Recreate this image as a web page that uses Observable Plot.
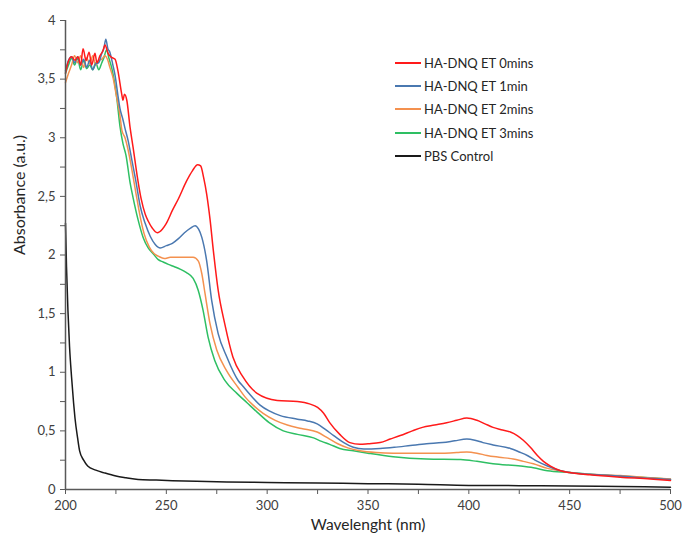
<!DOCTYPE html>
<html><head><meta charset="utf-8">
<script src="https://cdn.jsdelivr.net/npm/d3@7"></script>
<script src="https://cdn.jsdelivr.net/npm/@observablehq/plot@0.6"></script>
<style>
body{margin:0;background:#fff;font-family:Lato,"Open Sans",sans-serif;}
#wrap{position:relative;width:682px;height:542px;}
#legend{position:absolute;left:395px;top:51px;font-size:13px;color:#262626;}
.item{display:flex;align-items:center;height:23.4px;white-space:nowrap;}
.sw{width:26px;height:0;border-top:2px solid;margin-right:3px;}
</style></head><body><div id="wrap"><div id="legend"></div></div>
<script>
const seriesNames = ["HA-DNQ ET 0mins","HA-DNQ ET 1min","HA-DNQ ET 2mins","HA-DNQ ET 3mins","PBS Control"];
const seriesColors = ["#ff1a1a","#4a78b0","#f4914f","#2ebf63","#1a1a1a"];

const et0 = [[200,3.55],[201.4,3.65],[203.1,3.69],[204.7,3.66],[206.2,3.69],[207.5,3.62],[208.7,3.76],[210.2,3.66],[211.7,3.73],[213,3.62],[214.6,3.72],[215.6,3.64],[217.1,3.70],[218.5,3.74],[219.6,3.79],[221.1,3.72],[222.5,3.69],[224.6,3.67],[226,3.57],[227.9,3.37],[228.5,3.32],[229.2,3.37],[230.4,3.32],[232,3.09],[233.5,2.92],[235.5,2.68],[237.5,2.48],[239.5,2.35],[241,2.29],[243,2.23],[245.5,2.19],[248,2.22],[250,2.27],[253,2.38],[256,2.48],[260,2.63],[263,2.72],[265.5,2.77],[267,2.76],[268.5,2.66],[270,2.52],[271.7,2.30],[273.3,2.04],[275.7,1.70],[279,1.41],[283,1.13],[288,0.96],[295,0.82],[305,0.76],[315,0.75],[321,0.73],[325,0.70],[328,0.65],[331,0.57],[336,0.47],[341,0.40],[346,0.385],[350,0.39],[356,0.40],[361,0.43],[366,0.46],[372,0.50],[377,0.53],[383,0.55],[389,0.57],[394,0.59],[399,0.61],[404,0.59],[408,0.56],[412,0.53],[416,0.51],[420.6,0.49],[424,0.46],[427,0.42],[430.5,0.36],[434,0.29],[437,0.24],[440.5,0.20],[445.5,0.16],[450,0.145],[460,0.125],[475,0.105],[490,0.09],[500,0.077]];

const et1 = [[200,3.57],[201.5,3.66],[203,3.69],[204.5,3.64],[206,3.69],[207.5,3.62],[209,3.67],[210.5,3.60],[212,3.66],[213.5,3.58],[215,3.63],[216.5,3.64],[218,3.72],[219,3.76],[220,3.84],[221,3.76],[222,3.73],[223.5,3.62],[224.6,3.53],[226,3.36],[227,3.25],[228.4,3.16],[229.5,3.08],[231,2.98],[233,2.80],[235,2.62],[237,2.42],[239.5,2.27],[242,2.16],[244.5,2.09],[247,2.06],[250,2.08],[253,2.10],[256,2.14],[259,2.19],[262,2.23],[264.3,2.25],[266,2.22],[267.6,2.15],[270,1.95],[272.5,1.61],[275.7,1.33],[280,1.13],[285.6,0.93],[288,0.88],[293,0.78],[296.5,0.72],[301,0.67],[306.5,0.63],[315,0.60],[320,0.585],[324.8,0.56],[329,0.51],[333,0.46],[338,0.40],[342.7,0.36],[348,0.345],[356,0.35],[363,0.36],[371,0.375],[379,0.39],[387,0.40],[393,0.415],[399,0.43],[403,0.42],[407,0.40],[412,0.38],[420.6,0.35],[425,0.32],[429,0.29],[434,0.24],[439,0.20],[445.5,0.16],[450,0.145],[460,0.13],[475,0.115],[490,0.095],[500,0.085]];

const et2 = [[200,3.47],[201.5,3.55],[203,3.62],[204.5,3.70],[206,3.64],[207.5,3.70],[209,3.60],[210.5,3.68],[212,3.63],[213.5,3.70],[215,3.62],[216.5,3.66],[218,3.67],[219.5,3.70],[221,3.66],[222,3.60],[223.6,3.51],[225,3.38],[227,3.19],[228,3.06],[229.5,3.00],[231,2.90],[233,2.72],[235,2.52],[237,2.33],[239,2.18],[241.5,2.07],[244,2.01],[246,1.99],[249,1.97],[252,1.98],[256.8,1.98],[260,1.98],[263.3,1.98],[265.8,1.95],[267.6,1.84],[269.2,1.67],[271.7,1.41],[275,1.19],[280,1.01],[285.6,0.87],[289,0.79],[293,0.72],[298,0.65],[304,0.59],[310,0.55],[317,0.52],[324.8,0.49],[330,0.44],[335,0.39],[340,0.355],[346,0.33],[354,0.315],[362.5,0.31],[375,0.31],[387,0.31],[394,0.315],[399,0.32],[404,0.31],[409,0.29],[415,0.275],[422,0.26],[427,0.24],[432,0.22],[439,0.18],[445.5,0.16],[450,0.145],[460,0.13],[475,0.12],[490,0.10],[500,0.09]];

const et3 = [[200,3.55],[201.5,3.62],[203,3.68],[204.5,3.62],[206,3.68],[207.5,3.58],[209,3.66],[210.5,3.59],[212,3.62],[213.5,3.58],[215,3.64],[216.5,3.58],[218,3.64],[219,3.68],[220.4,3.75],[221.5,3.68],[223,3.59],[225.5,3.33],[227,3.10],[228.5,2.95],[230,2.85],[232,2.62],[233.5,2.49],[236,2.30],[238.5,2.15],[241,2.06],[243.5,2.01],[246,1.96],[248.4,1.94],[251,1.92],[254,1.90],[256.8,1.88],[260,1.85],[263.3,1.80],[265.8,1.70],[268.2,1.53],[270.7,1.30],[274,1.10],[279,0.93],[285,0.82],[290,0.74],[295,0.66],[301,0.57],[308,0.50],[315,0.47],[323,0.44],[327,0.41],[331,0.385],[336,0.35],[342.7,0.33],[350,0.31],[362.5,0.28],[379,0.26],[396,0.255],[404,0.24],[412,0.22],[425.6,0.20],[432,0.185],[439,0.16],[450,0.145],[460,0.13],[475,0.115],[490,0.10],[500,0.088]];

const pbs = [[200,2.27],[200.5,1.9],[201.2,1.53],[202,1.22],[203,0.96],[204,0.74],[204.7,0.61],[206,0.44],[207,0.33],[209,0.25],[211,0.20],[215,0.165],[219.6,0.14],[225,0.115],[230,0.10],[236,0.085],[245,0.08],[253,0.075],[265,0.07],[280,0.065],[300,0.06],[325,0.055],[350,0.05],[375,0.045],[400,0.035],[425,0.033],[450,0.03],[475,0.025],[500,0.02]];

const yTicks = d3.range(0, 4.001, 0.25);
const xTicks = d3.range(200, 501, 25);

const allSeries = [et0, et1, et2, et3, pbs];
const drawOrder = [4, 3, 2, 1, 0];

const chart = Plot.plot({
  width: 682, height: 542,
  marginLeft: 65, marginRight: 12, marginTop: 20, marginBottom: 53,
  style: {fontFamily: "Lato, 'Open Sans', sans-serif", fontSize: "13px", color: "#404040", background: "white"},
  x: {domain: [200, 500]},
  y: {domain: [0, 4]},
  marks: [
    Plot.axisY({ticks: yTicks, tickSize: 5, tickPadding: 5, stroke: "#595959",
      tickFormat: d => Math.abs(d * 2 - Math.round(d * 2)) < 1e-9 ? String(d).replace(".", ",") : "", label: null}),
    Plot.axisX({ticks: xTicks, tickSize: 5, tickPadding: 6, stroke: "#595959",
      tickFormat: d => d % 50 === 0 ? String(d) : "", label: null}),
    ...drawOrder.map(i => Plot.line(allSeries[i], {x: d => d[0], y: d => d[1], stroke: seriesColors[i], strokeWidth: 1.5, curve: "monotone-x"})),
    Plot.ruleX([200], {stroke: "#595959", strokeWidth: 1.5}),
    Plot.ruleY([0], {stroke: "#595959", strokeWidth: 1.5}),
    Plot.text(["Absorbance (a.u.)"], {frameAnchor: "left", dx: -46, rotate: -90, fontSize: 16, fill: "#262626"}),
    Plot.text(["Wavelenght (nm)"], {frameAnchor: "bottom", dy: 40, fontSize: 15.5, fill: "#262626"})
  ]
});
const wrap = document.getElementById("wrap");
wrap.insertBefore(chart, wrap.firstChild);
chart.style.position = "absolute"; chart.style.left = "0"; chart.style.top = "0";

const leg = document.getElementById("legend");
seriesNames.forEach((n, i) => {
  const it = document.createElement("div"); it.className = "item";
  const sw = document.createElement("span"); sw.className = "sw"; sw.style.borderColor = seriesColors[i];
  const t = document.createElement("span"); t.textContent = n;
  it.appendChild(sw); it.appendChild(t); leg.appendChild(it);
});
</script></body></html>
